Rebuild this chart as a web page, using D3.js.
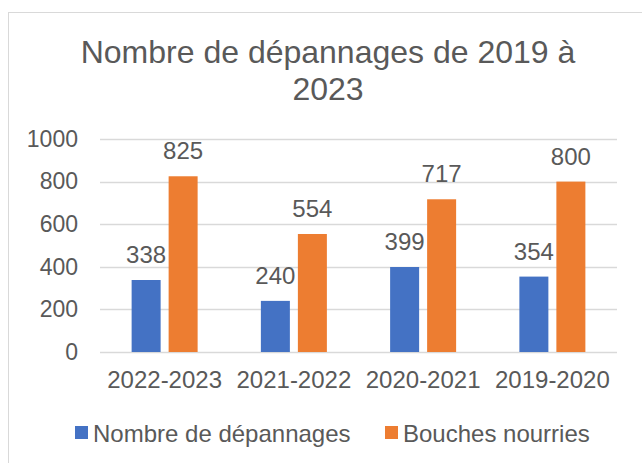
<!DOCTYPE html>
<html>
<head>
<meta charset="utf-8">
<script src="https://cdn.jsdelivr.net/npm/d3@7"></script>
<style>
  body { margin: 0; background: #fff; }
  text { font-family: "Liberation Sans", Arial, sans-serif; fill: #595959; }
</style>
</head>
<body>
<div id="chart"></div>
<script>
// data
var periods = ["2022-2023", "2021-2022", "2020-2021", "2019-2020"];
var depannages = [338, 240, 399, 354];
var bouches = [825, 554, 717, 800];
var seriesNames = ["Nombre de dépannages", "Bouches nourries"];
var seriesColors = ["#4472C4", "#ED7D31"];
var yTicks = [0, 200, 400, 600, 800, 1000];

var width = 642, height = 463;
var margin = {top: 139, right: 25, bottom: 111, left: 100};

var svg = d3.select("#chart")
    .append("svg")
    .attr("width", width)
    .attr("height", height);

// chart border
svg.append("rect")
    .attr("x", 8.5).attr("y", 12.5)
    .attr("width", 660).attr("height", 480)
    .attr("fill", "none")
    .attr("stroke", "#d9d9d9")
    .attr("stroke-width", 1);

// title
var title = svg.append("text")
    .attr("text-anchor", "middle")
    .style("font-size", "32px");
title.append("tspan").attr("x", 328).attr("y", 63).text("Nombre de dépannages de 2019 à");
title.append("tspan").attr("x", 328).attr("y", 100).text("2023");

var x = d3.scaleBand()
    .domain(periods)
    .range([margin.left, width - margin.right]);

var y = d3.scaleLinear()
    .domain([0, 1000])
    .range([height - margin.bottom, margin.top]);

// gridlines
svg.append("g")
    .selectAll("line")
    .data(yTicks)
    .enter()
    .append("line")
    .attr("x1", margin.left)
    .attr("x2", width - margin.right)
    .attr("y1", function(d) { return Math.round(y(d)) + 0.5; })
    .attr("y2", function(d) { return Math.round(y(d)) + 0.5; })
    .attr("stroke", "#d9d9d9")
    .attr("stroke-width", 1.5);

// y axis
var yAxis = svg.append("g")
    .attr("transform", "translate(" + (margin.left - 22) + ",0)")
    .call(d3.axisLeft(y).tickValues(yTicks).tickFormat(d3.format("d")).tickSize(0).tickPadding(0));
yAxis.select(".domain").remove();
yAxis.selectAll("text").style("font-size", "23px").attr("fill", "#595959");

// x axis
var xAxis = svg.append("g")
    .attr("transform", "translate(0," + (height - margin.bottom) + ")")
    .call(d3.axisBottom(x).tickSize(0).tickPadding(19));
xAxis.select(".domain").remove();
xAxis.selectAll("text").style("font-size", "24px").attr("fill", "#595959");

// bars
var barW = 29, gap = 8;
var rows = periods.map(function(p, i) {
    return {period: p, values: [depannages[i], bouches[i]]};
});

var groups = svg.selectAll(".grp")
    .data(rows)
    .enter()
    .append("g")
    .attr("class", "grp");

groups.selectAll("rect")
    .data(function(d) { return d.values.map(function(v, k) { return {p: d.period, v: v, k: k}; }); })
    .enter()
    .append("rect")
    .attr("x", function(d) {
        var c = x(d.p) + x.bandwidth() / 2;
        return d.k === 0 ? c - gap / 2 - barW : c + gap / 2;
    })
    .attr("y", function(d) { return y(d.v); })
    .attr("width", barW)
    .attr("height", function(d) { return y(0) - y(d.v); })
    .attr("fill", function(d) { return seriesColors[d.k]; });

groups.selectAll("text.lbl")
    .data(function(d) { return d.values.map(function(v, k) { return {p: d.period, v: v, k: k}; }); })
    .enter()
    .append("text")
    .attr("class", "lbl")
    .attr("text-anchor", "middle")
    .style("font-size", "24px")
    .attr("x", function(d) {
        var c = x(d.p) + x.bandwidth() / 2;
        return d.k === 0 ? c - gap / 2 - barW / 2 : c + gap / 2 + barW / 2;
    })
    .attr("y", function(d) { return y(d.v) - 17; })
    .text(function(d) { return d.v; });

// legend
var legX = [75, 385];
var legend = svg.selectAll(".leg")
    .data(seriesNames)
    .enter()
    .append("g")
    .attr("class", "leg")
    .attr("transform", function(d, i) { return "translate(" + legX[i] + ",426)"; });
legend.append("rect")
    .attr("width", 13).attr("height", 13)
    .attr("fill", function(d, i) { return seriesColors[i]; });
legend.append("text")
    .attr("x", 18).attr("y", 15.5)
    .style("font-size", "24px")
    .text(function(d) { return d; });
</script>
</body>
</html>
